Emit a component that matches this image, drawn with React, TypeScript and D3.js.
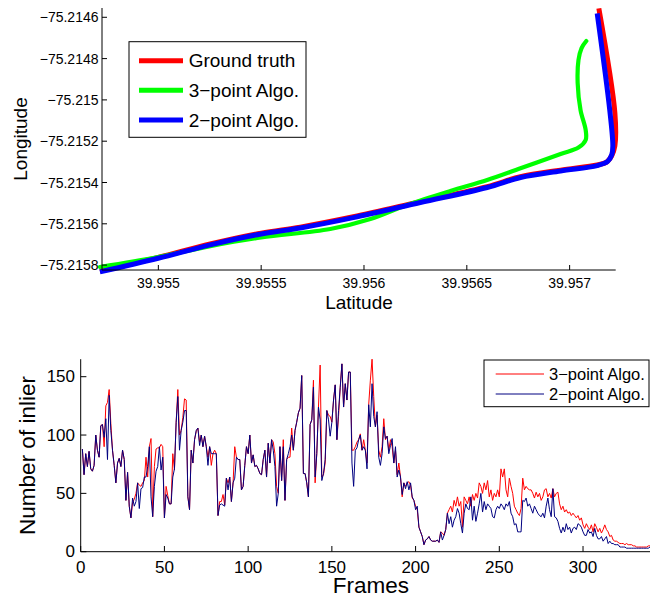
import React from 'react';
import * as d3 from 'd3';

// ---------- Top chart: trajectories (latitude on x, longitude on y) ----------
const gtLat = [39.954716, 39.954999, 39.955252, 39.9555, 39.95569, 39.955948, 39.956274, 39.956599, 39.956761, 39.956956, 39.957134, 39.95718, 39.957204, 39.95722, 39.95722, 39.957142];
const gtLon = [-75.215829, -75.215763, -75.215698, -75.215645, -75.215616, -75.215566, -75.215493, -75.21542, -75.215372, -75.21534, -75.215315, -75.215301, -75.215272, -75.215223, -75.215063, -75.214557];

const algo3Lat = [39.954716, 39.954999, 39.955252, 39.9555, 39.955836, 39.956031, 39.956209, 39.95642, 39.956599, 39.956761, 39.956956, 39.957043, 39.957078, 39.957078, 39.957053, 39.957039, 39.957043, 39.957058, 39.957081];
const algo3Lon = [-75.215809, -75.215761, -75.215708, -75.215666, -75.215625, -75.215577, -75.215509, -75.215441, -75.215388, -75.215331, -75.215262, -75.215231, -75.215194, -75.215146, -75.215049, -75.214918, -75.214807, -75.214749, -75.214715];

const algo2Lat = [39.954716, 39.954999, 39.955252, 39.9555, 39.95569, 39.955948, 39.956274, 39.956599, 39.956761, 39.956956, 39.957134, 39.957185, 39.957205, 39.95721, 39.957195, 39.957134];
const algo2Lon = [-75.215833, -75.215767, -75.215702, -75.215649, -75.21562, -75.21557, -75.215497, -75.215424, -75.215376, -75.215344, -75.215318, -75.215298, -75.215265, -75.215223, -75.215049, -75.214581];

const latTicks = [39.955, 39.9555, 39.956, 39.9565, 39.957];
const lonTicks = [-75.2158, -75.2156, -75.2154, -75.2152, -75.215, -75.2148, -75.2146];
const topLegend = ['Ground truth', '3\u2212point Algo.', '2\u2212point Algo.'];

// ---------- Bottom chart: number of inliers per frame (frames 1..341) ----------
const inlier3 = [
  88, 66, 84, 73, 86, 71, 69, 74, 100, 87,
  81, 108, 109, 90, 125, 128, 139, 110, 87, 74,
  59, 76, 80, 73, 87, 79, 44, 68, 39, 29,
  42, 45, 50, 59, 57, 56, 59, 61, 81, 64,
  90, 97, 30, 73, 88, 89, 89, 92, 90, 29,
  56, 48, 41, 41, 84, 70, 111, 139, 100, 104,
  115, 131, 130, 47, 36, 87, 76, 96, 103, 106,
  94, 100, 90, 99, 90, 81, 90, 74, 84, 87,
  84, 31, 43, 43, 49, 40, 63, 59, 64, 43,
  59, 90, 81, 79, 79, 53, 56, 74, 90, 84,
  100, 76, 83, 73, 74, 71, 67, 66, 79, 87,
  64, 93, 76, 96, 94, 84, 56, 50, 90, 61,
  96, 44, 79, 81, 81, 106, 87, 104, 111, 119,
  123, 151, 67, 67, 59, 47, 109, 113, 147, 59,
  84, 124, 160, 64, 66, 76, 121, 117, 116,
  111, 130, 143, 96, 116, 141, 161, 124, 144, 130,
  154, 154, 87, 87, 90, 94, 96, 101, 87, 96,
  87, 76, 126, 147, 165, 133, 107, 117, 87, 81,
  90, 114, 96, 99, 87, 96, 90, 76, 87, 66,
  76, 64, 47, 59, 56, 59, 60, 57, 46, 44,
  39, 36, 21, 17, 13, 6, 10, 11, 13, 10,
  9, 9, 9, 10, 8, 17, 16, 14, 19,
  33, 36, 39, 34, 44, 39, 47, 39, 43, 21,
  47, 44, 41, 47, 39, 49, 44, 50, 46, 59,
  56, 50, 59, 53, 61, 47, 53, 44, 50, 47,
  53, 47, 71, 64, 71, 53, 47, 63, 56, 50,
  39, 36, 33, 31, 37, 63, 53, 56, 54, 53,
  53, 50, 46, 51, 47, 50, 44, 47, 53, 54,
  47, 50, 46, 54, 47, 50, 51, 41, 36, 39,
  34, 36, 33, 34, 31, 33, 31, 29, 31, 27,
  29, 23, 20, 24, 21, 19, 23, 17, 24, 21,
  17, 20, 16, 19, 23, 19, 17, 13, 14, 10,
  9, 9, 8, 7, 7, 7, 6, 7, 6, 6,
  6, 5, 5, 4, 4, 4, 4, 4, 4, 4,
  5, 5, 5,
];

const inlier2 = [
  88, 66, 84, 73, 86, 71, 69, 74, 100, 87,
  81, 108, 109, 98, 114, 79, 134, 104, 87, 74,
  59, 76, 80, 73, 87, 79, 44, 68, 39, 29,
  46, 39, 43, 59, 37, 54, 55, 64, 64, 73,
  90, 47, 30, 56, 69, 73, 90, 70, 81, 29,
  49, 46, 41, 41, 64, 71, 111, 133, 87, 104,
  111, 121, 121, 47, 36, 87, 76, 96, 104, 106,
  91, 100, 90, 99, 90, 74, 90, 84, 84, 84,
  84, 31, 40, 41, 40, 39, 63, 53, 64, 43,
  59, 63, 81, 79, 79, 53, 56, 74, 90, 84,
  100, 76, 83, 73, 74, 71, 67, 66, 79, 87,
  64, 93, 76, 96, 87, 73, 39, 50, 90, 61,
  90, 44, 79, 84, 90, 100, 87, 104, 111, 119,
  123, 151, 67, 67, 59, 47, 109, 113, 141, 64,
  84, 124, 113, 61, 67, 79, 121, 113, 99,
  111, 130, 143, 96, 121, 141, 161, 124, 144, 130,
  154, 154, 76, 56, 87, 89, 96, 100, 87, 90,
  87, 71, 126, 107, 144, 116, 107, 120, 81, 74,
  84, 107, 97, 99, 84, 91, 97, 76, 90, 64,
  70, 64, 49, 59, 54, 60, 53, 59, 47, 44,
  36, 39, 21, 17, 13, 6, 10, 11, 13, 10,
  9, 9, 9, 10, 8, 17, 10, 14, 19, 33,
  24, 30, 21, 27, 30, 37, 33, 24, 16, 33,
  41, 37, 36, 47, 27, 39, 26, 33, 41, 50,
  34, 43, 36, 41, 39, 37, 30, 29, 36, 39,
  37, 41, 39, 36, 41, 39, 43, 33, 30, 23,
  24, 17, 17, 17, 44, 43, 46, 39, 41, 37,
  33, 39, 36, 33, 31, 30, 33, 29, 39, 46,
  36, 30, 54, 30, 29, 26, 20, 16, 21, 17,
  24, 19, 21, 16, 20, 21, 19, 24, 23, 21,
  17, 14, 14, 19, 16, 17, 13, 20, 14, 11,
  11, 13, 9, 11, 13, 7, 9, 7, 7, 6,
  6, 6, 4, 4, 4, 4, 3, 3, 3, 3,
  3, 3, 3, 3, 3, 3, 3, 3, 3, 3,
  4, 5,
];

const frameTicks = [0, 50, 100, 150, 200, 250, 300];
const inlierTicks = [0, 50, 100, 150];
const bottomLegend = ['3\u2212point Algo.', '2\u2212point Algo.'];

const FONT = '"Liberation Sans", Arial, Helvetica, sans-serif';
const fmt = (v: number) => String(v).replace('-', '\u2212');

export default function App() {
  // top scales
  const xT = d3.scaleLinear().domain([39.954726, 39.957224]).range([102, 615.7]);
  const yT = d3.scaleLinear().domain([-75.2158237, -75.214555]).range([270, 8]);
  const trace = (lat: number[], lon: number[]) =>
    d3.line<number>()
      .x((d) => xT(d))
      .y((_, i) => yT(lon[i]))
      .curve(d3.curveCatmullRom.alpha(0.5))(lat) || '';

  // bottom scales
  const xB = d3.scaleLinear().domain([0, 340]).range([80.7, 650]);
  const yB = d3.scaleLinear().domain([0, 165]).range([551.7, 359.2]);
  const series = (vals: number[]) =>
    d3.line<number>()
      .x((_, i) => xB(i + 1))
      .y((d) => yB(d))(vals) || '';

  const topColors = ['#ff0000', '#00ff00', '#0000ff'];
  const botColors = ['#ff0000', '#000080'];

  return (
    <svg width={650} height={599} style={{ position: 'absolute', left: 0, top: 0, background: '#fff' }} fontFamily={FONT}>
      <rect x={0} y={0} width={650} height={599} fill="#fff" />
      {/* ===== Top chart ===== */}
      <path d={trace(gtLat, gtLon)} fill="none" stroke="#ff0000" strokeWidth={5} strokeLinejoin="round" />
      <path d={trace(algo3Lat, algo3Lon)} fill="none" stroke="#00ff00" strokeWidth={4.2} strokeLinejoin="round" strokeLinecap="round" />
      <path d={trace(algo2Lat, algo2Lon)} fill="none" stroke="#0000ff" strokeWidth={5} strokeLinejoin="round" />
      {/* axes */}
      <line x1={102} y1={270} x2={615.7} y2={270} stroke="#000" strokeWidth={1} />
      <line x1={102} y1={8} x2={102} y2={270} stroke="#000" strokeWidth={1} />
      {latTicks.map((t) => (
        <g key={'lt' + t}>
          <line x1={xT(t)} x2={xT(t)} y1={270} y2={265} stroke="#000" />
          <text x={xT(t)} y={288} fontSize={14} textAnchor="middle">{fmt(t)}</text>
        </g>
      ))}
      {lonTicks.map((t) => (
        <g key={'lo' + t}>
          <line x1={102} x2={107} y1={yT(t)} y2={yT(t)} stroke="#000" />
          <text x={98.5} y={yT(t)} fontSize={14} textAnchor="end" dominantBaseline="central">{fmt(t)}</text>
        </g>
      ))}
      <text x={359} y={309} fontSize={19} textAnchor="middle">Latitude</text>
      <text transform="translate(27,139) rotate(-90)" fontSize={19} textAnchor="middle">Longitude</text>
      {/* legend */}
      <rect x={129} y={41.7} width={177} height={95.6} fill="#fff" stroke="#000" strokeWidth={1} />
      {topLegend.map((s, i) => {
        const cy = 60.7 + i * 29.65;
        return (
          <g key={s}>
            <line x1={139} x2={183} y1={cy} y2={cy} stroke={topColors[i]} strokeWidth={5} />
            <text x={188.7} y={cy} fontSize={19} dominantBaseline="central">{s}</text>
          </g>
        );
      })}

      {/* ===== Bottom chart ===== */}
      <path d={series(inlier3)} fill="none" stroke="#ff0000" strokeWidth={1} />
      <path d={series(inlier2)} fill="none" stroke="#000080" strokeWidth={1} />
      <line x1={80.7} y1={551.7} x2={650} y2={551.7} stroke="#000" />
      <line x1={80.7} y1={359.2} x2={80.7} y2={551.7} stroke="#000" />
      {frameTicks.map((t) => (
        <g key={'f' + t}>
          <line x1={xB(t)} x2={xB(t)} y1={551.7} y2={546} stroke="#000" />
          <text x={xB(t)} y={573} fontSize={17} textAnchor="middle">{t}</text>
        </g>
      ))}
      {inlierTicks.map((t) => (
        <g key={'n' + t}>
          <line x1={80.7} x2={86.4} y1={yB(t)} y2={yB(t)} stroke="#000" />
          <text x={75} y={yB(t)} fontSize={17} textAnchor="end" dominantBaseline="central">{t}</text>
        </g>
      ))}
      <text x={371} y={593} fontSize={22.5} textAnchor="middle">Frames</text>
      <text transform="translate(35,455.5) rotate(-90)" fontSize={22.5} textAnchor="middle">Number of inlier</text>
      <rect x={484} y={360} width={165} height={46.7} fill="#fff" stroke="#000" strokeWidth={1} />
      {bottomLegend.map((s, i) => {
        const cy = 374 + i * 20;
        return (
          <g key={s}>
            <line x1={495.7} x2={544} y1={cy} y2={cy} stroke={botColors[i]} strokeWidth={1} />
            <text x={549} y={cy} fontSize={16.5} dominantBaseline="central">{s}</text>
          </g>
        );
      })}
    </svg>
  );
}
